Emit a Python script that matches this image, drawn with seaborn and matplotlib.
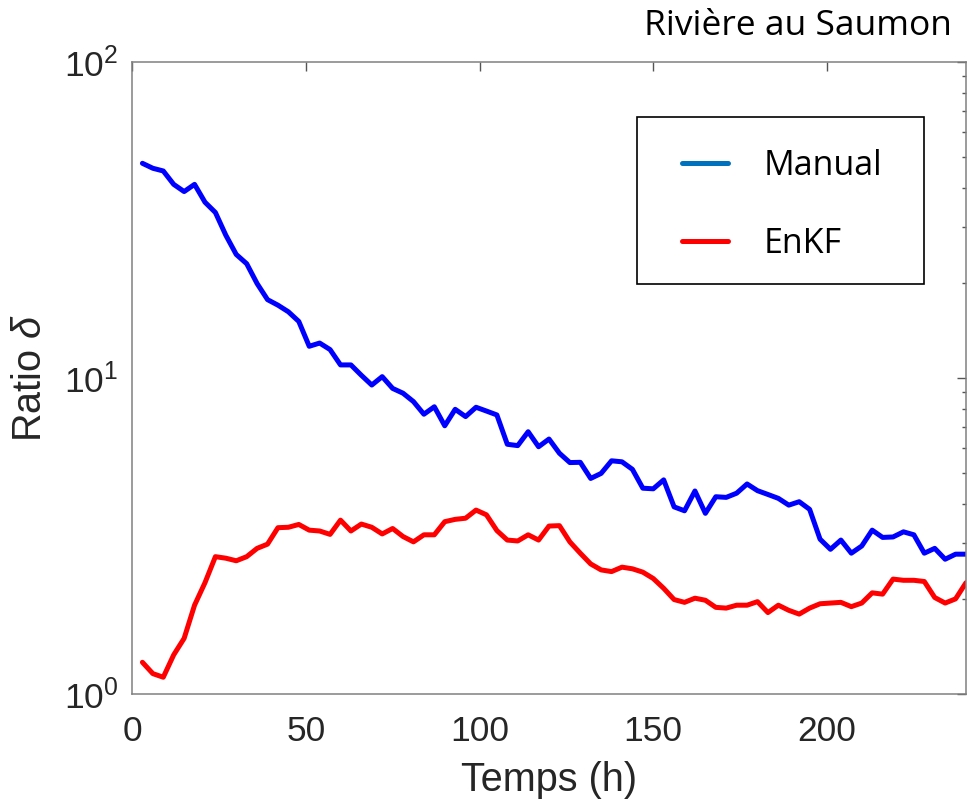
import matplotlib
matplotlib.use("Agg")
import matplotlib.pyplot as plt
import seaborn as sns
import pandas as pd
from matplotlib.lines import Line2D
from matplotlib.patches import Rectangle
from matplotlib.font_manager import FontProperties
from matplotlib.ticker import LogLocator, FixedLocator

# Hourly time steps of the simulation (h)
hours = list(range(3, 241, 3))

# Error ratio for the manually calibrated run
manual = [47.8, 46.1, 45.2, 41.0, 38.9, 41.0, 36.0, 33.4, 28.3, 24.6,
          23.0, 19.9, 17.7, 17.0, 16.2, 15.1, 12.6, 12.9, 12.3, 11.0,
          11.0, 10.2, 9.5, 10.1, 9.27, 8.95, 8.42, 7.68, 8.11, 7.06,
          7.96, 7.55, 8.08, 7.86, 7.64, 6.17, 6.11, 6.76, 6.06, 6.41,
          5.78, 5.40, 5.41, 4.81, 4.99, 5.47, 5.43, 5.14, 4.48, 4.46,
          4.76, 3.91, 3.80, 4.39, 3.73, 4.21, 4.19, 4.32, 4.62, 4.40,
          4.28, 4.16, 3.96, 4.06, 3.84, 3.09, 2.87, 3.07, 2.79, 2.94,
          3.30, 3.13, 3.14, 3.26, 3.19, 2.79, 2.89, 2.67, 2.77, 2.77]

# Error ratio for the EnKF data-assimilation run
enkf = [1.26, 1.16, 1.13, 1.33, 1.50, 1.91, 2.25, 2.72, 2.69, 2.64,
        2.72, 2.89, 2.98, 3.36, 3.37, 3.44, 3.30, 3.28, 3.20, 3.55,
        3.28, 3.45, 3.37, 3.21, 3.34, 3.15, 3.03, 3.19, 3.19, 3.51,
        3.57, 3.60, 3.82, 3.69, 3.29, 3.07, 3.05, 3.19, 3.07, 3.40,
        3.41, 3.03, 2.79, 2.58, 2.47, 2.44, 2.52, 2.49, 2.43, 2.32,
        2.16, 1.99, 1.95, 2.01, 1.98, 1.88, 1.87, 1.91, 1.91, 1.96,
        1.81, 1.91, 1.84, 1.79, 1.87, 1.93, 1.94, 1.95, 1.89, 1.94,
        2.09, 2.07, 2.31, 2.29, 2.29, 2.27, 2.02, 1.94, 2.00, 2.25]

series_names = ["Manual", "EnKF"]
x_ticks = [0, 50, 100, 150, 200]

sns.set_theme(style="white")
plt.rcParams.update({
    "font.family": ["Liberation Sans", "DejaVu Sans"],
    "mathtext.fontset": "custom",
    "mathtext.rm": "Liberation Sans",
    "mathtext.it": "Liberation Sans:italic",
    "mathtext.bf": "Liberation Sans:bold",
    "axes.edgecolor": "#808080",
    "axes.linewidth": 1.1,
})

W, H = 967, 809
fig = plt.figure(figsize=(W / 100, H / 100), dpi=100)
ax = fig.add_axes([132 / W, (H - 694) / H, (966 - 132) / W, (694 - 62) / H])

df = pd.DataFrame({
    "Temps": hours + hours,
    "Ratio": manual + enkf,
    "Méthode": [series_names[0]] * len(manual) + [series_names[1]] * len(enkf),
})

ax.set_yscale("log")
sns.lineplot(data=df, x="Temps", y="Ratio", hue="Méthode",
             palette={"Manual": "#0000FF", "EnKF": "#FF0000"},
             linewidth=3.6, errorbar=None, legend=False, ax=ax)

ax.set_xlim(0, 240)
ax.set_ylim(1, 100)
ax.xaxis.set_major_locator(FixedLocator(x_ticks))
ax.yaxis.set_major_locator(LogLocator(base=10, numticks=10))
ax.yaxis.set_minor_locator(LogLocator(base=10, subs=range(2, 10), numticks=10))

ax.tick_params(which="both", direction="in", top=True, right=True,
               color="#555555", width=1.0)
ax.tick_params(which="major", length=6.5, labelsize=25.5, labelcolor="#262626")
ax.tick_params(axis="x", which="major", pad=15)
ax.tick_params(axis="y", which="major", pad=10)
ax.tick_params(which="minor", length=3.2)

ax.set_xlabel("Temps (h)", fontsize=28.5, color="#262626")
ax.set_ylabel(r"Ratio $\delta$", fontsize=28.5, color="#262626")
ax.xaxis.set_label_coords(0.5, -0.106)
ax.yaxis.set_label_coords(-0.100, 0.5)
for sp in ax.spines.values():
    sp.set_visible(True)

# Legend box and entries
fig.add_artist(Rectangle((637 / W, 1 - 284 / H), (924 - 637) / W, (284 - 117) / H,
                         transform=fig.transFigure, facecolor="white",
                         edgecolor="black", linewidth=1.2, zorder=3))
handles = [Line2D([], [], color="#0072BD", linewidth=3.6),
           Line2D([], [], color="#FF0000", linewidth=3.6)]
fig.legend(handles, series_names, loc="upper left",
           bbox_to_anchor=(682 / W, 1 - 149 / H), frameon=False,
           borderpad=0, borderaxespad=0, handlelength=1.35,
           handletextpad=1.05, labelspacing=1.28,
           labelcolor="black",
           prop=FontProperties(family="Open Sans", size=24.5)).set_zorder(4)

fig.text(952 / W, 1 - 26 / H, "Rivière au Saumon", ha="right", va="center",
         fontsize=25.5, family="Open Sans", color="black")

fig.savefig("out.png", dpi=100, facecolor="white")
